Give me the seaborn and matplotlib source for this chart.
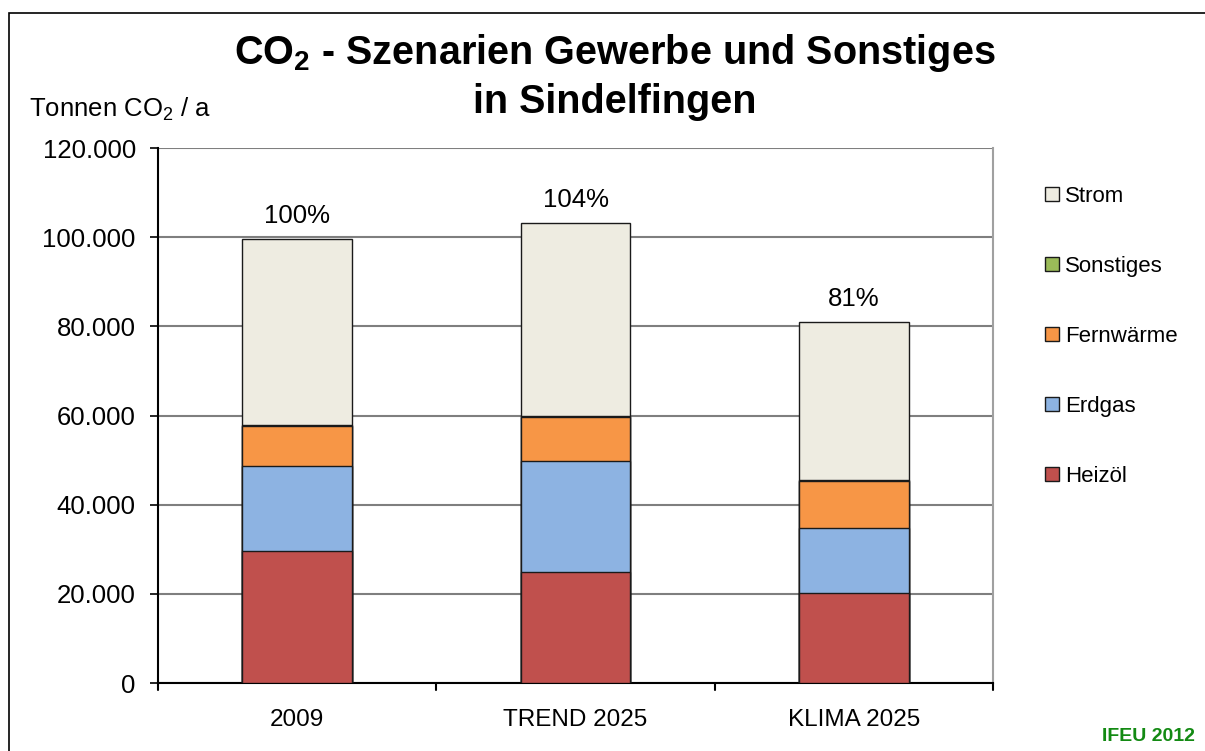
import matplotlib
matplotlib.use("Agg")
import matplotlib.pyplot as plt
from matplotlib.patches import Patch, Rectangle
from matplotlib.ticker import FuncFormatter, FixedLocator
import seaborn as sns
import numpy as np
import pandas as pd

szenarien = ["2009", "TREND 2025", "KLIMA 2025"]
traeger = ["Heizöl", "Erdgas", "Fernwärme", "Sonstiges", "Strom"]
heizoel = [29600, 24900, 20300]
erdgas = [19000, 24900, 14500]
fernwaerme = [9000, 9900, 10500]
sonstiges = [200, 200, 200]
strom = [41800, 43300, 35500]
prozent = ["100%", "104%", "81%"]

farben = {
    "Heizöl": "#C0504D",
    "Erdgas": "#8DB3E2",
    "Fernwärme": "#F79646",
    "Sonstiges": "#9BBB59",
    "Strom": "#EEECE1",
}

sns.set_style("white")
plt.rcParams["font.family"] = ["Liberation Sans", "DejaVu Sans"]
plt.rcParams["mathtext.default"] = "regular"
plt.rcParams["text.color"] = "black"
plt.rcParams["xtick.color"] = "black"
plt.rcParams["ytick.color"] = "black"

df = pd.DataFrame({"Szenario": szenarien, "Heizöl": heizoel, "Erdgas": erdgas,
                   "Fernwärme": fernwaerme, "Sonstiges": sonstiges, "Strom": strom})
cum = df[traeger].cumsum(axis=1)
cum["Szenario"] = df["Szenario"]

fig = plt.figure(figsize=(12.05, 7.51), dpi=100)
ax = fig.add_axes([0.1311, 0.0905, 0.693, 0.7124])

# gestapelt: kumulierte Summen von oben nach unten zeichnen
for t in traeger[::-1]:
    sns.barplot(data=cum, x="Szenario", y=t, order=szenarien, color=farben[t],
                width=0.395, edgecolor="#1a1a1a", linewidth=1.0, saturation=1,
                ax=ax, zorder=3)

ax.set_ylim(0, 120000)
ax.set_xlim(-0.5, 2.5)
ax.yaxis.set_major_locator(FixedLocator(np.arange(0, 120001, 20000)))
ax.yaxis.set_major_formatter(FuncFormatter(lambda v, p: f"{int(v):,}".replace(",", ".")))
ax.grid(axis="y", color="#7f7f7f", linewidth=1.5, zorder=0)
ax.set_xlabel("")
ax.set_ylabel("")

# x-Ticks an den Kategoriegrenzen, Beschriftungen mittig
ax.set_xticks([0, 1, 2])
ax.set_xticklabels(szenarien, fontsize=17.5)
ax.tick_params(axis="x", length=0, pad=19)
for xb in [-0.5, 0.5, 1.5, 2.5]:
    ax.plot([xb, xb], [0, -1600], color="black", lw=1.5, clip_on=False)
ax.tick_params(axis="y", labelsize=18.5, length=6, width=1.2, direction="out", left=True, pad=10)

for s in ["left", "bottom"]:
    ax.spines[s].set_color("black")
    ax.spines[s].set_linewidth(1.5)
ax.spines["right"].set_color("#a0a0a0")
ax.spines["right"].set_linewidth(1.5)
ax.spines["top"].set_visible(False)

totals = df[traeger].sum(axis=1).values
for i, (tot, lab) in enumerate(zip(totals, prozent)):
    ax.annotate(lab, (i, tot), xytext=(0, 8), textcoords="offset points",
                ha="center", va="bottom", fontsize=18.5)

handles = [Patch(facecolor=farben[t], edgecolor="#1a1a1a", linewidth=1.0, label=t)
           for t in traeger[::-1]]
fig.legend(handles=handles, loc="upper left", bbox_to_anchor=(0.851, 0.779),
           frameon=False, fontsize=16, handlelength=0.6, handleheight=0.6,
           handletextpad=0.3, labelspacing=2.2)

fig.text(0.51, 0.929, "CO$_2$ - Szenarien Gewerbe und Sonstiges", ha="center", va="center",
         fontsize=28.5, fontweight="bold")
fig.text(0.51, 0.864, "in Sindelfingen", ha="center", va="center",
         fontsize=28.5, fontweight="bold")
fig.text(0.024, 0.854, "Tonnen CO$_2$ / a", ha="left", va="center", fontsize=18.5)
fig.text(0.992, 0.019, "IFEU 2012", ha="right", va="center", fontsize=14,
         fontweight="bold", color="#138a13")

fig.patches.append(Rectangle((0.0075, -0.01), 1.2, 0.993, transform=fig.transFigure,
                             fill=False, edgecolor="black", linewidth=1.2))

fig.savefig("out.png", dpi=100)
